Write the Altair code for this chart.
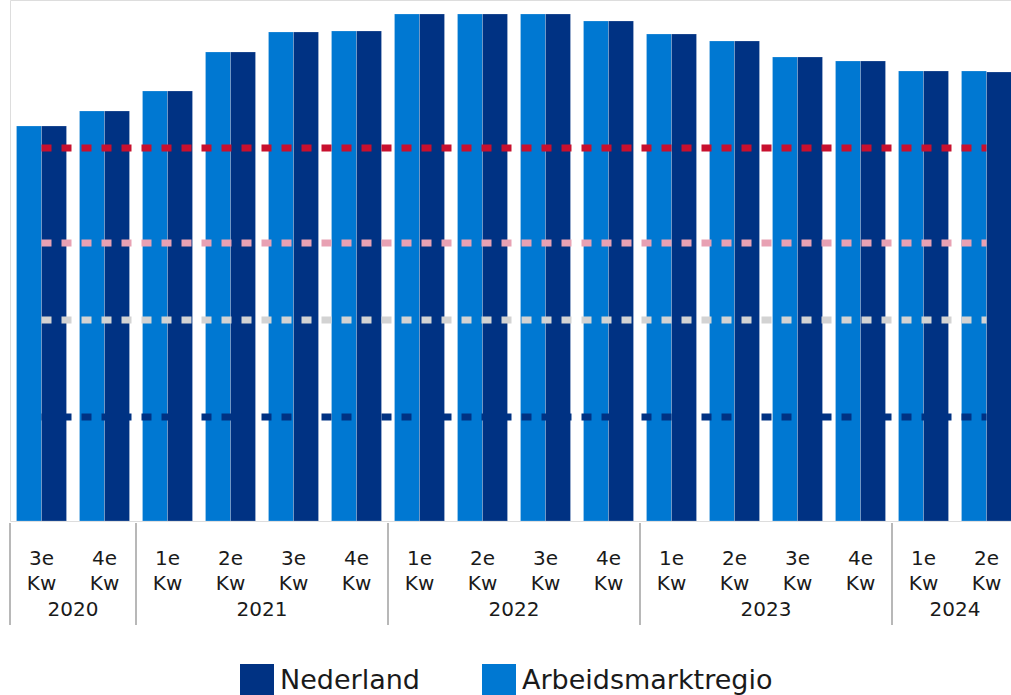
import altair as alt
import pandas as pd

# ---- data (no y axis, so units are relative) ----
quarter_labels = ["3e Kw", "4e Kw", "1e Kw", "2e Kw", "3e Kw", "4e Kw", "1e Kw", "2e Kw",
                  "3e Kw", "4e Kw", "1e Kw", "2e Kw", "3e Kw", "4e Kw", "1e Kw", "2e Kw"]
years = ["2020", "2020", "2021", "2021", "2021", "2021", "2022", "2022",
         "2022", "2022", "2023", "2023", "2023", "2023", "2024", "2024"]
arbeidsmarktregio = [395, 410, 430, 469, 489, 490, 507, 507, 507, 500, 487, 480, 464, 460, 450, 450]
nederland = [395, 410, 430, 469, 489, 490, 507, 507, 507, 500, 487, 480, 464, 460, 450, 449]
series = ["Nederland", "Arbeidsmarktregio"]
series_colors = ["#003283", "#0078D2"]
line_names = ["niveau 4", "niveau 3", "niveau 2", "niveau 1"]
line_levels = [373, 278, 201, 104]
line_colors = ["#C8102E", "#E8A1B3", "#D3D3D3", "#003283"]

n = len(quarter_labels)
idx = list(range(n))

bars_df = pd.DataFrame({
    "idx": idx * 2,
    "serie": ["Arbeidsmarktregio"] * n + ["Nederland"] * n,
    "waarde": arbeidsmarktregio + nederland,
})
lines_df = pd.DataFrame({
    "idx": idx * len(line_names),
    "lijn": [nm for nm in line_names for _ in idx],
    "waarde": [lv for lv in line_levels for _ in idx],
})
q_df = pd.DataFrame({"idx": idx, "kwartaal": quarter_labels, "jaar": years})

FONT = "DejaVu Sans"
STEP_RANGE = [0, 1008]
band_scale = alt.Scale(type="band", domain=idx, range=STEP_RANGE,
                       paddingInner=13 / 63, paddingOuter=6.5 / 63)
lin_scale = alt.Scale(domain=[-0.5, n - 0.5], range=STEP_RANGE, nice=False, zero=False)
y_scale = alt.Scale(domain=[0, 521], nice=False, zero=True)

bars = alt.Chart(bars_df).mark_bar(stroke="#ffffff", strokeWidth=0.4, strokeOpacity=0.5).encode(
    x=alt.X("idx:O", scale=band_scale, axis=None),
    xOffset=alt.XOffset("serie:N", scale=alt.Scale(domain=["Arbeidsmarktregio", "Nederland"],
                                                  paddingInner=0, paddingOuter=0)),
    y=alt.Y("waarde:Q", scale=y_scale, axis=None),
    color=alt.Color("serie:N",
                    scale=alt.Scale(domain=series, range=series_colors),
                    legend=alt.Legend(title=None, orient="none", legendX=230, legendY=664,
                                      direction="horizontal", symbolType="square",
                                      symbolSize=1156, symbolStrokeWidth=0,
                                      labelFontSize=27, labelFont=FONT, labelColor="#1a1a1a",
                                      labelLimit=0, labelOffset=6, columnPadding=62, padding=0)),
)

lines = alt.Chart(lines_df).mark_line(strokeDash=[10, 10], strokeWidth=7, strokeCap="butt").encode(
    x=alt.X("idx:O", scale=band_scale, axis=None, bandPosition=0.5),
    y=alt.Y("waarde:Q", scale=y_scale, axis=None),
    color=alt.Color("lijn:N", scale=alt.Scale(domain=line_names, range=line_colors), legend=None),
    detail="lijn:N",
)

qtext = alt.Chart(q_df).mark_text(lineBreak=" ", lineHeight=25, baseline="alphabetic",
                                  fontSize=20, font=FONT, color="#1a1a1a").encode(
    x=alt.X("idx:O", scale=band_scale, axis=None, bandPosition=0.5),
    y=alt.value(565),
    text="kwartaal:N",
)

ytext = alt.Chart(q_df).transform_aggregate(
    mid="mean(idx)", groupby=["jaar"]
).mark_text(baseline="alphabetic", fontSize=20, font=FONT, color="#1a1a1a").encode(
    x=alt.X("mid:Q", scale=lin_scale, axis=None),
    y=alt.value(616),
    text="jaar:N",
)

seps = alt.Chart(q_df).transform_aggregate(
    start="min(idx)", groupby=["jaar"]
).transform_calculate(grens="datum.start - 0.5").mark_rule(color="#a0a0a0", strokeWidth=1.5).encode(
    x=alt.X("grens:Q", scale=lin_scale, axis=None),
    y=alt.value(523),
    y2=alt.value(625),
)

chart = alt.layer(bars, lines, qtext, ytext, seps).resolve_scale(
    x="independent", color="independent"
).properties(
    width=1001, height=521,
    autosize=alt.AutoSizeParams(type="none"),
    padding={"left": 10, "top": 0, "right": 0, "bottom": 174},
).configure_view(stroke=None).configure(background="#ffffff")

chart.save("out.html", embed_options={"renderer": "svg", "actions": False})
